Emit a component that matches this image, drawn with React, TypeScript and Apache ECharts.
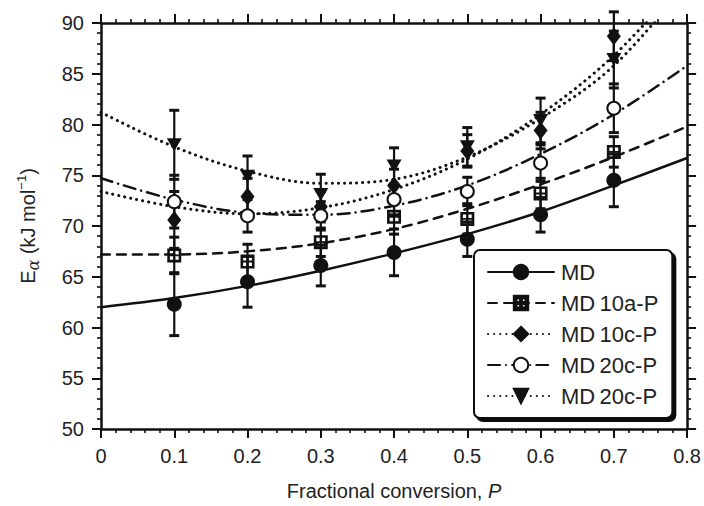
import React, { useEffect, useRef } from "react";
import * as echarts from "echarts";

// Measured points (fractional conversion P)
const pointX = [0.1, 0.2, 0.3, 0.4, 0.5, 0.6, 0.7];
const mdVals = [62.3, 64.5, 66.1, 67.4, 68.7, 71.1, 74.5];
const md10aVals = [67.1, 66.5, 68.4, 70.9, 70.7, 73.2, 77.3];
const md10cVals = [70.6, 72.9, 71.9, 74.0, 77.4, 79.4, 88.7];
const md20cVals = [72.4, 71.0, 71.0, 72.6, 73.4, 76.2, 81.6];
const md20cTriVals = [78.0, 74.9, 73.1, 75.9, 77.8, 80.4, 86.4];

// Error bar half-widths
const mdErr = [3.1, 2.5, 2.0, 2.3, 1.7, 1.7, 2.6];
const md10aErr = [1.8, 1.7, 1.4, 1.7, 1.5, 1.5, 1.5];
const md10cErr = [2.8, 1.8, 1.5, 1.6, 1.6, 1.8, 2.4];
const md20cErr = [2.6, 1.6, 1.4, 1.5, 1.4, 1.8, 2.4];
const md20cTriErr = [3.4, 2.0, 2.0, 1.8, 1.9, 2.2, 2.8];

// Fitted curves
const curveX = [0, 0.1, 0.2, 0.3, 0.4, 0.5, 0.6, 0.7, 0.8];
const mdFit = [62.0, 62.9, 64.1, 65.6, 67.3, 69.2, 71.4, 74.0, 76.7];
const md10aFit = [67.2, 67.2, 67.5, 68.3, 69.7, 71.7, 74.1, 76.8, 79.8];
const md10cFit = [73.4, 71.9, 71.2, 71.8, 73.6, 76.6, 81.0, 86.8, 94.6];
const md20cFit = [74.7, 72.6, 71.3, 71.1, 72.0, 74.0, 77.1, 81.0, 85.8];
const md20cTriFit = [81.2, 77.8, 75.4, 74.2, 74.6, 76.8, 80.6, 85.8, 94.0];

const seriesNames = ["MD", "MD\u200910a-P", "MD\u200910c-P", "MD\u200920c-P", "MD\u200920c-P\u200b"];

const xMin = 0, xMax = 0.8, xStep = 0.1;
const yMin = 50, yMax = 90, yStep = 5;

const INK = "#111";
const SQUARE_PLUS =
  "path://M0 0H14V14H0Z M2.6 2.6V6.1H6.1V2.6Z M7.9 2.6V6.1H11.4V2.6Z M2.6 7.9V11.4H6.1V7.9Z M7.9 7.9V11.4H11.4V7.9Z";

export default function App() {
  const ref = useRef<HTMLDivElement>(null);

  useEffect(() => {
    const chart = echarts.init(ref.current!, null, { renderer: "svg" });

    const groups = [
      {
        name: seriesNames[0], vals: mdVals, err: mdErr, fit: mdFit,
        symbol: "circle", size: 15, rotate: 0,
        line: { type: "solid", width: 2.5 },
      },
      {
        name: seriesNames[1], vals: md10aVals, err: md10aErr, fit: md10aFit,
        symbol: SQUARE_PLUS, size: 14, rotate: 0,
        line: { type: [9, 7], width: 2.5 },
      },
      {
        name: seriesNames[2], vals: md10cVals, err: md10cErr, fit: md10cFit,
        symbol: "diamond", size: [14, 18], rotate: 0,
        line: { type: [0.1, 6], width: 3 },
      },
      {
        name: seriesNames[3], vals: md20cVals, err: md20cErr, fit: md20cFit,
        symbol: "emptyCircle", size: 13, rotate: 0,
        line: { type: [12, 6, 0.1, 6], width: 2.5 },
      },
      {
        name: seriesNames[4], vals: md20cTriVals, err: md20cTriErr, fit: md20cTriFit,
        symbol: "triangle", size: [15, 13], rotate: 180,
        line: { type: [0.1, 6], width: 3 },
      },
    ];

    const series: any[] = [];
    groups.forEach((g) => {
      series.push({
        type: "line",
        name: g.name,
        data: curveX.map((x, i) => [x, g.fit[i]]),
        smooth: 0.35,
        showSymbol: false,
        symbol: g.symbol,
        symbolRotate: g.rotate,
        clip: true,
        z: 2,
        color: INK,
        itemStyle: { color: INK, borderColor: INK, borderWidth: 2, opacity: 1 },
        lineStyle: { color: INK, width: g.line.width, type: g.line.type, cap: "round" },
        emphasis: { disabled: true },
        silent: true,
      });
    });
    groups.forEach((g) => {
      series.push({
        type: "custom",
        name: g.name,
        z: 3,
        silent: true,
        data: pointX.map((x, i) => [x, g.vals[i], g.err[i]]),
        encode: { x: 0, y: 1 },
        renderItem: (params: any, api: any) => {
          const x = api.value(0);
          const y = api.value(1);
          const e = api.value(2);
          const top = api.coord([x, y + e]);
          const bot = api.coord([x, y - e]);
          const hw = 5;
          const st = { stroke: INK, lineWidth: 2.2 };
          return {
            type: "group",
            children: [
              { type: "line", shape: { x1: top[0], y1: top[1], x2: bot[0], y2: bot[1] }, style: st },
              { type: "line", shape: { x1: top[0] - hw, y1: top[1], x2: top[0] + hw, y2: top[1] }, style: { stroke: INK, lineWidth: 3 } },
              { type: "line", shape: { x1: bot[0] - hw, y1: bot[1], x2: bot[0] + hw, y2: bot[1] }, style: { stroke: INK, lineWidth: 3 } },
            ],
          };
        },
      });
    });
    groups.forEach((g) => {
      series.push({
        type: "scatter",
        name: g.name,
        z: 4,
        silent: true,
        data: pointX.map((x, i) => [x, g.vals[i]]),
        symbol: g.symbol,
        symbolSize: g.size,
        symbolRotate: g.rotate,
        itemStyle: {
          color: INK,
          borderColor: INK,
          borderWidth: g.symbol === "emptyCircle" ? 2.5 : 0,
          opacity: 1,
        },
        emphasis: { disabled: true },
      });
    });

    const tickLabel = { fontFamily: "Liberation Sans", fontSize: 20, color: "#222" };
    const axisLine = { show: true, onZero: false, lineStyle: { color: INK, width: 2.5 } };
    const axisTick = { show: true, inside: false, length: 9, lineStyle: { color: INK, width: 2 } };
    const minorTick = { show: true, splitNumber: 5, length: 4, lineStyle: { color: INK, width: 1.6 } };

    const option: any = {
      animation: false,
      backgroundColor: "#fff",
      color: [INK],
      grid: { left: 101, right: 16, top: 23, bottom: 77, containLabel: false },
      xAxis: [
        {
          type: "value", min: xMin, max: xMax, interval: xStep, position: "bottom",
          axisLine, axisTick, minorTick,
          axisLabel: { ...tickLabel, margin: 17 },
          splitLine: { show: false },
          name: "Fractional conversion, {i|P}",
          nameLocation: "middle",
          nameGap: 52,
          nameTextStyle: {
            fontFamily: "Liberation Sans", fontSize: 20, color: "#222",
            rich: { i: { fontFamily: "Liberation Sans", fontSize: 20, fontStyle: "italic", color: "#222" } },
          },
        },
        {
          type: "value", min: xMin, max: xMax, interval: xStep, position: "top",
          axisLine, axisTick, minorTick,
          axisLabel: { show: false }, splitLine: { show: false },
        },
      ],
      yAxis: [
        {
          type: "value", min: yMin, max: yMax, interval: yStep, position: "left",
          axisLine, axisTick, minorTick,
          axisLabel: { ...tickLabel, margin: 17 },
          splitLine: { show: false },
          name: "{e|E}{s|α}{t| (kJ mol}{p|−1}{t|)}",
          nameLocation: "middle",
          nameGap: 60,
          nameTextStyle: {
            fontFamily: "Liberation Sans", fontSize: 20, color: "#222",
            rich: {
              e: { fontFamily: "Liberation Sans", fontSize: 20, color: "#222", lineHeight: 26, verticalAlign: "middle" },
              t: { fontFamily: "Liberation Sans", fontSize: 20, color: "#222", lineHeight: 26, verticalAlign: "middle" },
              s: { fontFamily: "DejaVu Serif", fontSize: 16, fontStyle: "italic", color: "#222", lineHeight: 14, verticalAlign: "bottom" },
              p: { fontFamily: "Liberation Sans", fontSize: 13, color: "#222", lineHeight: 13, verticalAlign: "top" },
            },
          },
        },
        {
          type: "value", min: yMin, max: yMax, interval: yStep, position: "right",
          axisLine, axisTick, minorTick,
          axisLabel: { show: false }, splitLine: { show: false },
        },
      ],
      legend: {
        data: seriesNames,
        orient: "vertical",
        left: 474,
        top: 250,
        itemWidth: 66,
        itemHeight: 18,
        itemGap: 9,
        padding: [11, 14, 11, 13],
        selectedMode: false,
        backgroundColor: "#fff",
        borderColor: INK,
        borderWidth: 2,
        borderRadius: 6,
        shadowColor: INK,
        shadowBlur: 0,
        shadowOffsetX: 3,
        shadowOffsetY: 3,
        textStyle: { fontFamily: "Liberation Sans", fontSize: 22, color: "#222", padding: [0, 0, 0, 2] },
      },
      series,
    };

    chart.setOption(option);
    return () => chart.dispose();
  }, []);

  return (
    <div
      ref={ref}
      style={{ position: "fixed", left: 0, top: 0, width: 704, height: 506, background: "#fff" }}
    />
  );
}
